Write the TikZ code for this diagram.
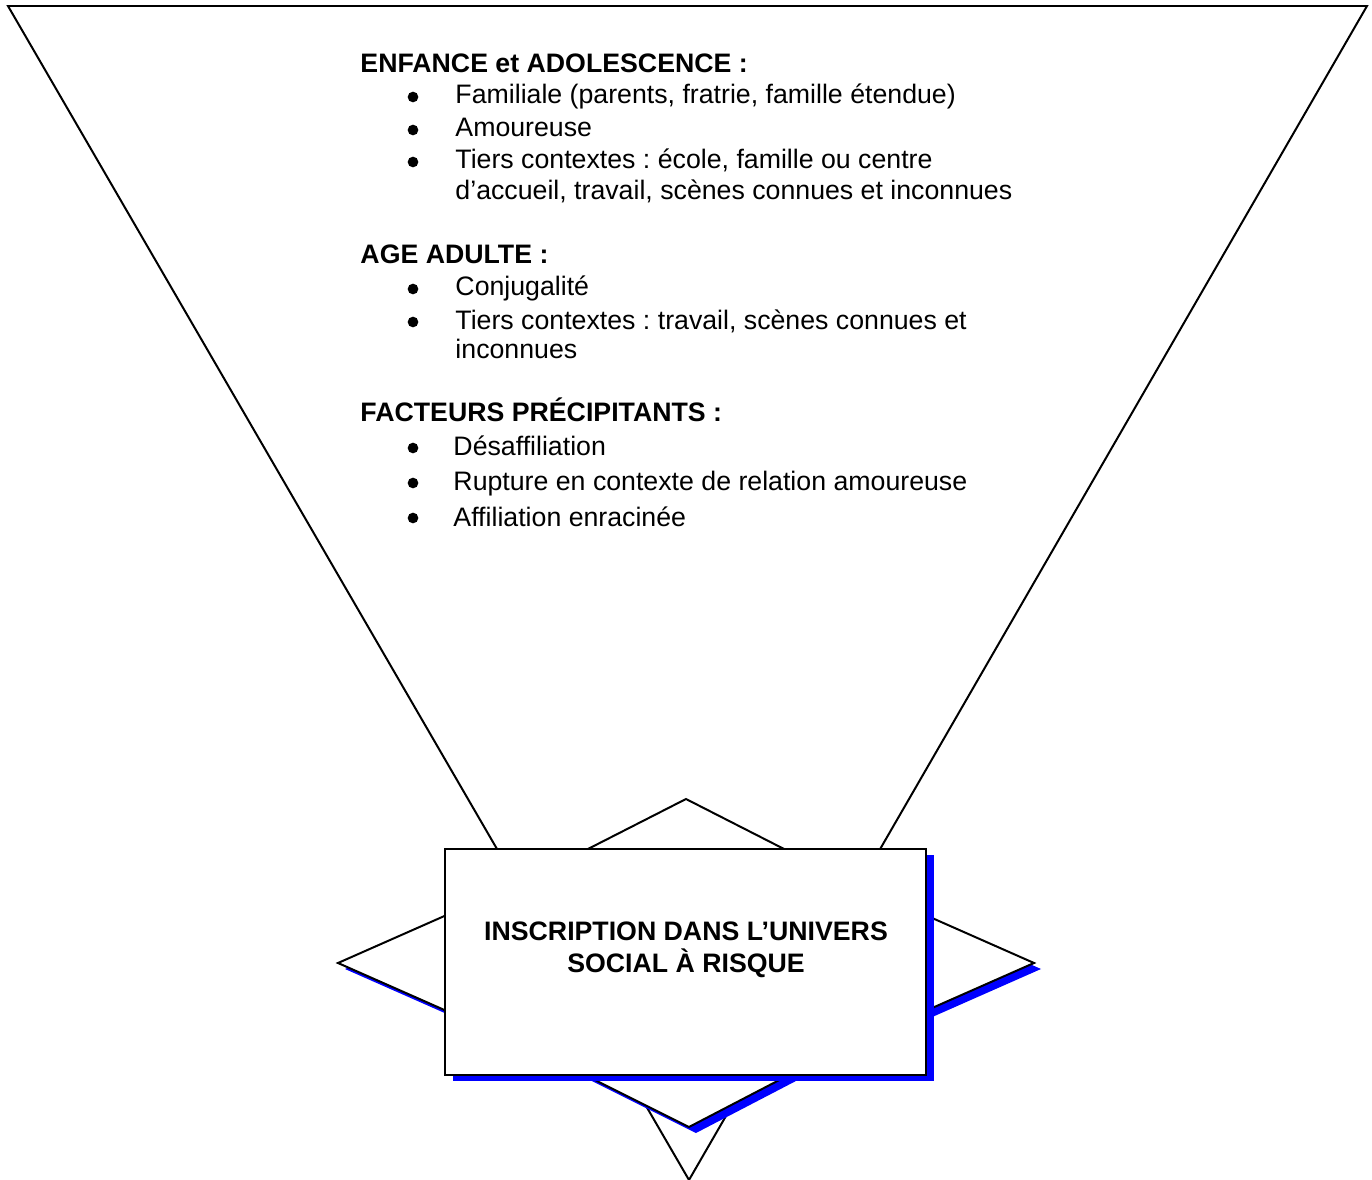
\documentclass[tikz,border=0pt]{standalone}
\usepackage{fontspec}
\setmainfont{Liberation Sans}
\frenchspacing
\begin{document}
\begin{tikzpicture}[x=0.015cm,y=-0.015cm,
  txt/.style={anchor=base west, inner sep=0pt, font=\fontsize{11.4}{13.7}\selectfont},
  hd/.style={anchor=base west, inner sep=0pt, font=\fontsize{11.4}{13.7}\selectfont\bfseries},
  bul/.style={circle, fill=black, draw=none, inner sep=0pt, minimum size=0.16cm},
  outline/.style={draw=black, line width=0.85pt, line join=miter},
  blueshadow/.style={fill=blue, draw=none}]
\useasboundingbox (0,0) rectangle (1372,1180);
% funnel
\coordinate (tl) at (8,6);
\coordinate (tr) at (1367,6);
\coordinate (ap) at (689,1180);
\draw[outline] (tl) -- (tr) -- (ap) -- cycle;
% star
\coordinate (st) at (686,799);
\coordinate (sr) at (1034,963);
\coordinate (sb) at (689,1127);
\coordinate (sl) at (338,963);
\coordinate (itl) at (535,876);
\coordinate (itr) at (837,876);
\coordinate (ibr) at (837,1050);
\coordinate (ibl) at (535,1050);
\fill[blueshadow] ([shift={(7,6)}]st) -- ([shift={(7,6)}]itr) -- ([shift={(7,6)}]sr) -- ([shift={(7,6)}]ibr) -- ([shift={(7,6)}]sb) -- ([shift={(7,6)}]ibl) -- ([shift={(7,6)}]sl) -- ([shift={(7,6)}]itl) -- cycle;
\filldraw[outline, fill=white] (st) -- (itr) -- (sr) -- (ibr) -- (sb) -- (ibl) -- (sl) -- (itl) -- cycle;
% box
\coordinate (bnw) at (445,849);
\coordinate (bse) at (926,1075);
\fill[blueshadow] ([shift={(8,6)}]bnw) rectangle ([shift={(8,6)}]bse);
\filldraw[outline, fill=white] (bnw) rectangle (bse);
\node[hd, anchor=base] (b1) at (686,940) {INSCRIPTION DANS L’UNIVERS};
\node[hd, anchor=base] (b2) at (686,972) {SOCIAL À RISQUE};
% texts
\node[hd] (h1) at (360,73) {ENFANCE et ADOLESCENCE :};
\node[bul] (p1) at (413,97) {};
\node[txt] (t1) at (455,104) {Familiale (parents, fratrie, famille étendue)};
\node[bul] (p2) at (413,130) {};
\node[txt] (t2) at (455,137) {Amoureuse};
\node[bul] (p3) at (413,162) {};
\node[txt] (t3) at (455,169) {Tiers contextes : école, famille ou centre};
\node[txt] (t3b) at (455,200) {d’accueil, travail, scènes connues et inconnues};
\node[hd] (h2) at (360,264) {AGE ADULTE :};
\node[bul] (p4) at (413,289) {};
\node[txt] (t4) at (455,296) {Conjugalité};
\node[bul] (p5) at (413,322) {};
\node[txt] (t5) at (455,329) {Tiers contextes : travail, scènes connues et};
\node[txt] (t5b) at (455,359) {inconnues};
\node[hd] (h3) at (360,421) {FACTEURS PRÉCIPITANTS :};
\node[bul] (p6) at (413,448) {};
\node[txt] (t6) at (453,456) {Désaffiliation};
\node[bul] (p7) at (413,483) {};
\node[txt] (t7) at (453,491) {Rupture en contexte de relation amoureuse};
\node[bul] (p8) at (413,518) {};
\node[txt] (t8) at (453,526) {Affiliation enracinée};
\end{tikzpicture}
\end{document}
